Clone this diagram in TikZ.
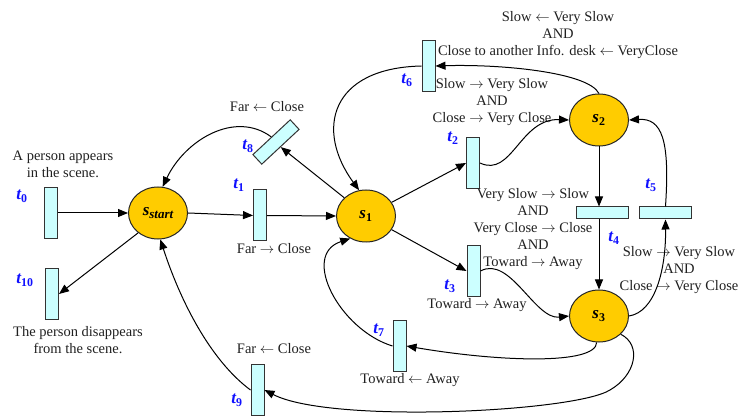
\documentclass[tikz,border=0pt]{standalone}
\usepackage{fontspec}
\setmainfont{Liberation Serif}
\usetikzlibrary{shapes.geometric,arrows.meta}
\definecolor{transfill}{HTML}{CCFFFF}
\definecolor{placefill}{HTML}{FFCC00}
\definecolor{labelblue}{HTML}{1010FF}
\definecolor{txt}{HTML}{202020}
\tikzset{
  trans/.style={draw=black!80, fill=transfill, line width=1pt, minimum width=13pt, minimum height=51pt, inner sep=0pt},
  htrans/.style={trans, minimum width=52pt, minimum height=12pt},
  place/.style={ellipse, draw=black!85, fill=placefill, line width=1pt, minimum width=59pt, minimum height=52pt, inner sep=0pt,
                font=\fontsize{17}{17}\selectfont\bfseries\itshape},
  tlab/.style={text=labelblue, font=\fontsize{17}{17}\selectfont\bfseries\itshape, inner sep=0pt},
  lbl/.style={text=txt, align=center, font=\fontsize{14.5}{17}\selectfont, inner sep=0pt},
  arr/.style={-{Triangle[length=10pt,width=8pt]}, line width=1pt, draw=black}
}
\newcommand{\tsub}[1]{t\textsubscript{\upshape #1}}
\begin{document}
\begin{tikzpicture}[x=1pt,y=-1pt]
\useasboundingbox (0,0) rectangle (740,417);

% places
\node[place] (sst) at (158,213) {s\raisebox{-0.45ex}{\fontsize{13}{13}\selectfont start}};
\node[place] (s1) at (366,216) {s\textsubscript{\upshape 1}};
\node[place] (s2) at (599,120) {s\textsubscript{\upshape 2}};
\node[place] (s3) at (599,316) {s\textsubscript{\upshape 3}};

% transitions
\node[trans] (t0) at (51,213) {};
\node[trans] (t10) at (52,294) {};
\node[trans] (t1) at (260,215.5) {};
\node[trans, rotate=-47] (t8) at (276,142) {};
\node[trans] (t6) at (428.5,66) {};
\node[trans] (t2) at (473,163) {};
\node[htrans] (t4) at (602,213) {};
\node[htrans] (t5) at (665.5,213) {};
\node[trans] (t3) at (473.5,271) {};
\node[trans] (t7) at (399.5,346) {};
\node[trans] (t9) at (257.5,390) {};

% transition names
\node[tlab] (l0) at (22,196) {\tsub{0}};
\node[tlab] (l10) at (25,280) {\tsub{10}};
\node[tlab] (l1) at (239,185) {\tsub{1}};
\node[tlab] (l8) at (248,146) {\tsub{8}};
\node[tlab] (l6) at (407,80) {\tsub{6}};
\node[tlab] (l2) at (453,138) {\tsub{2}};
\node[tlab] (l5) at (651,185) {\tsub{5}};
\node[tlab] (l4) at (614,238) {\tsub{4}};
\node[tlab] (l3) at (450,286) {\tsub{3}};
\node[tlab] (l7) at (379,330) {\tsub{7}};
\node[tlab] (l9) at (237,400) {\tsub{9}};

% conditions
\node[lbl] (c0) at (63,164) {A person appears\\in the scene.};
\node[lbl] (c10) at (78,340) {The person disappears\\from the scene.};
\node[lbl] (c1) at (274,249) {Far $\rightarrow$ Close};
\node[lbl] (c8) at (267,107) {Far $\leftarrow$ Close};
\node[lbl] (c6a) at (558,35) {Slow $\leftarrow$ Very Slow\\AND\\Close to another Info. desk $\leftarrow$ VeryClose};
\node[lbl] (c6b) at (492,102) {Slow $\rightarrow$ Very Slow\\AND\\Close $\rightarrow$ Very Close};
\node[lbl] (c4) at (533,229) {Very Slow $\rightarrow$ Slow\\AND\\Very Close $\rightarrow$ Close\\AND\\Toward $\rightarrow$ Away};
\node[lbl] (c5) at (679,270) {Slow $\rightarrow$ Very Slow\\AND\\Close $\rightarrow$ Very Close};
\node[lbl] (c3) at (477,305) {Toward $\rightarrow$ Away};
\node[lbl] (c7) at (410,380) {Toward $\leftarrow$ Away};
\node[lbl] (c9) at (274,349) {Far $\leftarrow$ Close};

% arcs
\draw[arr] (t0.east) -- (sst.west);
\draw[arr] (sst.225) -- (t10.east);
\draw[arr] (sst.east) -- (t1.west);
\draw[arr] (t1.east) -- (s1.west);
\draw[arr] (s1.140) -- (t8.east);
\draw[arr] (t8.west) .. controls (235,110) and (185,140) .. (sst.80);
\draw[arr] (s2.north) .. controls (588,72) and (500,64) .. (t6.east);
\draw[arr] (t6.west) .. controls (330,68) and (315,130) .. (s1.105);
\draw[arr] (s1.28) -- (t2.west);
\draw[arr] (t2.east) .. controls (512,178) and (520,118) .. (s2.west);
\draw[arr] (s2.south) -- (s2.south |- t4.north);
\draw[arr] (s3.north |- t4.south) -- (s3.north);
\draw[arr] (s3.east) .. controls (655,312) and (666,270) .. (t5.south);
\draw[arr] (t5.north) .. controls (670,140) and (662,118) .. (s2.east);
\draw[arr] (s1.-28) -- (t3.west);
\draw[arr] (t3.east) .. controls (510,255) and (535,320) .. (s3.west);
\draw[arr] (s3.-95) .. controls (596,365) and (500,362) .. (t7.east);
\draw[arr] (t7.west) .. controls (340,330) and (300,255) .. (s1.235);
\draw[arr] (t9.west) .. controls (210,360) and (180,300) .. (sst.-85);
\draw[arr] (s3.-40) .. controls (642,345) and (636,375) .. (610,390)
                    .. controls (575,412) and (330,424) .. (t9.east);
\end{tikzpicture}
\end{document}
